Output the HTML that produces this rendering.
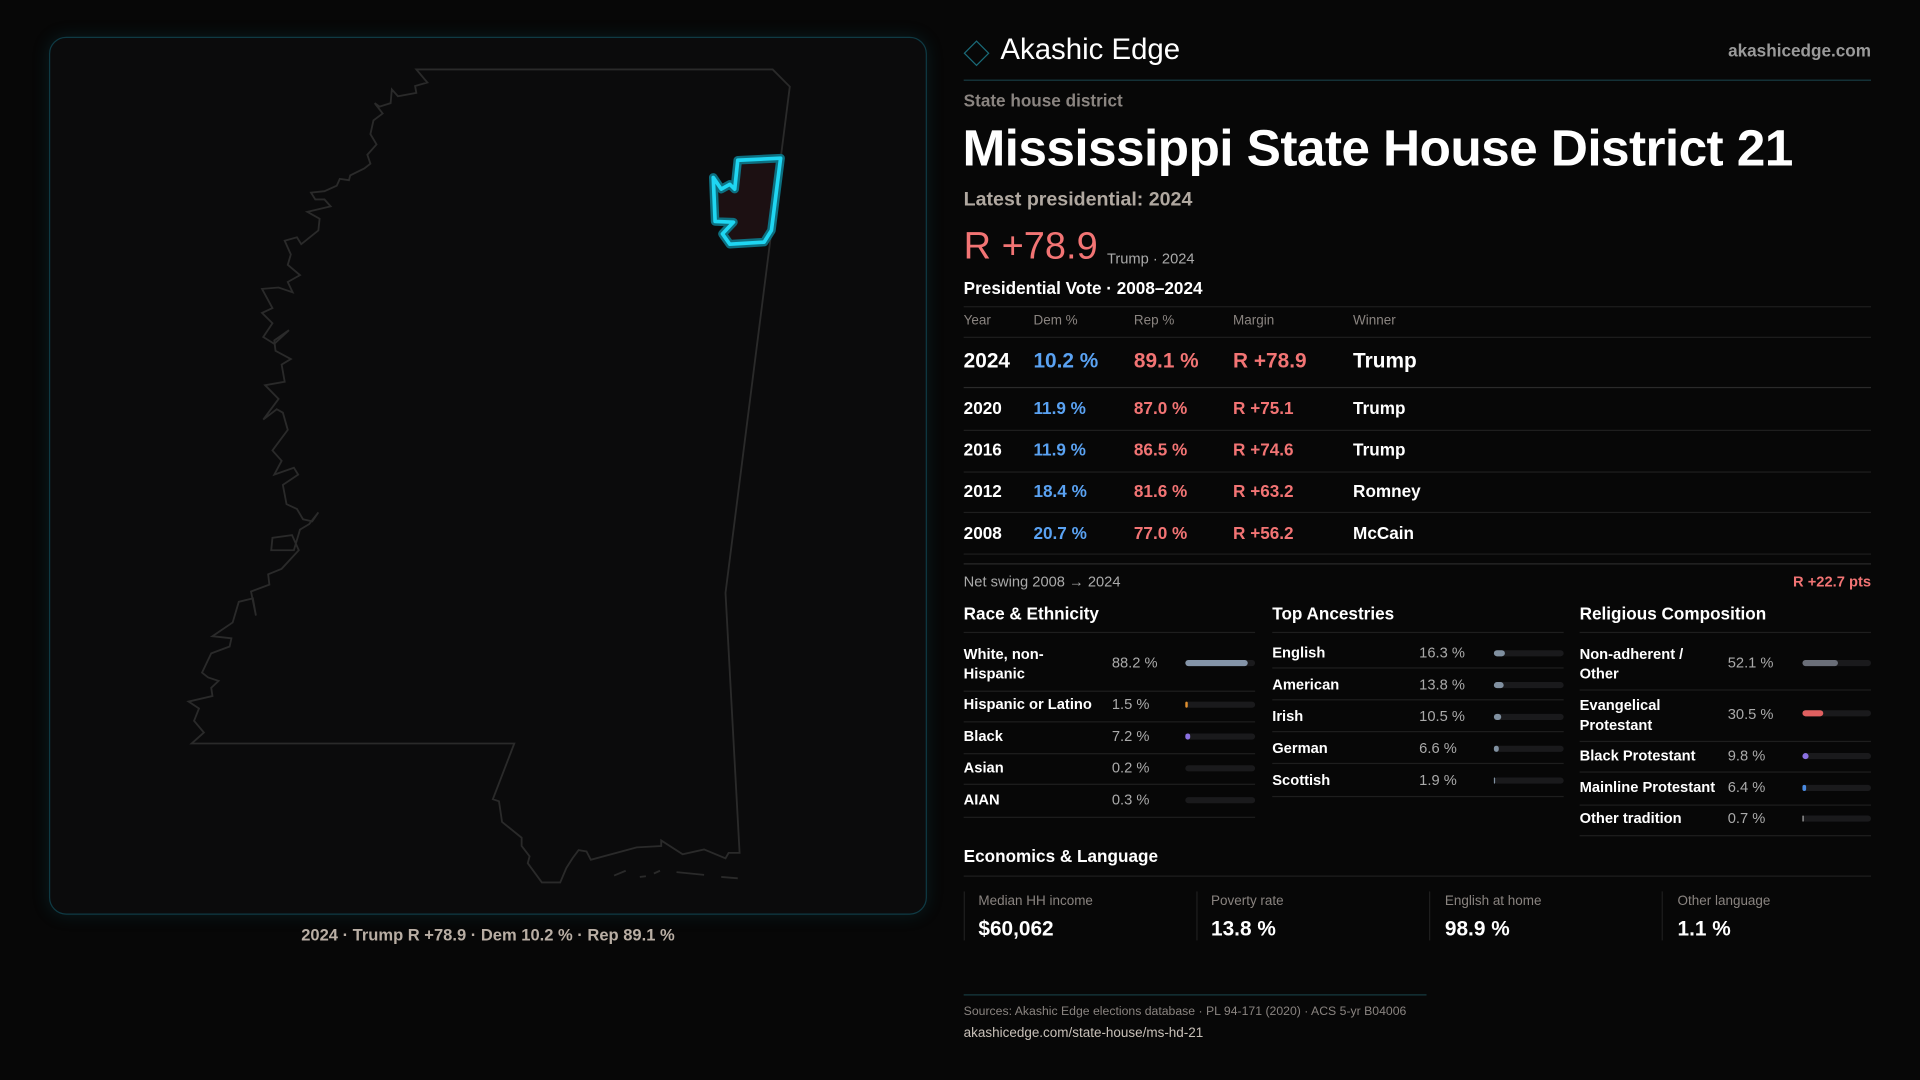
<!DOCTYPE html>
<html><head><meta charset="utf-8"><style>
*{margin:0;padding:0;box-sizing:border-box}
html,body{width:1920px;height:1080px;background:#070707;overflow:hidden}
#w{position:absolute;left:0;top:0;width:1568px;height:882px;transform:scale(1.22449);transform-origin:0 0;font-family:"Liberation Sans",sans-serif;color:#fff}
.t{position:absolute;line-height:1;white-space:nowrap}
.l{position:absolute;height:1px;background:#1e1e1e}
.g{color:#8a8480}
.b{font-weight:bold}
.blue{color:#5aa2f2}.red{color:#f27474}
.bar{position:absolute;height:5px;border-radius:3px;background:#1a1a1c}
.bar i{position:absolute;left:0;top:0;height:5px;border-radius:3px}
</style></head><body><div id="w">
<div style="position:absolute;left:40px;top:30px;width:717px;height:717px;border:1px solid #0f3a44;border-radius:14px;background:#0b0b0c;box-shadow:0 0 14px rgba(20,120,140,.18)"></div>
<svg style="position:absolute;left:0;top:0" width="1568" height="882">
<g transform="scale(0.5,0.5617)" fill="none" stroke="#2a2a2a" stroke-width="1.5">
<path vector-effect="non-scaling-stroke" d="M680,101 L1262,101 L1290,126 L1185,862 L1208,1240 L1190,1240 L1185,1248 L1150,1235 L1115,1242 L1080,1222 L1080,1230 L1040,1232 L965,1250 L958,1238 L945,1236 L935,1248 L925,1262 L915,1283 L885,1283 L862,1255 L865,1245 L852,1230 L852,1218 L820,1195 L815,1165 L805,1162 L840,1081 L313,1081 L333,1065 L317,1048 L325,1030 L308,1020 L347,1012 L345,1000 L357,990 L340,985 L330,978 L345,950 L375,940 L378,928 L347,925 L380,905 L390,875 L413,870 L418,895 L410,860 L440,850 L438,835 L460,827 L488,800 L477,778 L445,782 L443,800 L480,800 L490,770 L505,762 L520,745 L510,758 L495,755 L485,740 L468,733 L462,705 L487,690 L480,680 L448,690 L460,670 L445,655 L470,625 L462,600 L452,595 L430,610 L455,580 L433,560 L465,555 L460,530 L475,522 L450,510 L448,495 L472,480 L448,500 L430,490 L445,470 L428,455 L445,448 L428,420 L455,418 L478,425 L470,410 L490,400 L470,385 L475,370 L465,350 L485,345 L492,355 L520,335 L522,318 L502,308 L540,300 L530,290 L515,290 L508,280 L530,278 L550,270 L555,260 L570,262 L572,255 L595,245 L605,238 L600,225 L615,210 L605,195 L610,175 L625,165 L612,150 L620,155 L638,150 L640,130 L650,140 L680,135 L678,125 L698,120 Z"/>
<path vector-effect="non-scaling-stroke" d="M1003,1273 L1022,1266 M1045,1275 L1055,1274 M1068,1270 L1078,1266 M1105,1268 L1150,1272 M1178,1275 L1205,1277"/>
<polygon vector-effect="non-scaling-stroke" points="1205,233 1275,230 1260,335 1248,352 1192,355 1180,340 1198,323 1168,322 1165,258 1178,275 1192,268 1200,275" fill="#1c1012" stroke="#0d6f80" stroke-width="7" stroke-linejoin="round"/>
<polygon vector-effect="non-scaling-stroke" points="1205,233 1275,230 1260,335 1248,352 1192,355 1180,340 1198,323 1168,322 1165,258 1178,275 1192,268 1200,275" fill="none" stroke="#1fd6f2" stroke-width="3" stroke-linejoin="round"/>
</g>
</svg>
<div class="t b" style="left:0;width:797px;text-align:center;top:757px;font-size:13.5px;color:#b9aea4">2024 · Trump R +78.9 · Dem 10.2 % · Rep 89.1 %</div>

<div style="position:absolute;left:790px;top:36px;width:15px;height:15px;border:1.5px solid #1a6a78;transform:rotate(45deg)"></div>
<div class="t" style="left:817px;top:29px;font-size:24px">Akashic Edge</div>
<div class="t b" style="right:40px;top:34px;font-size:14px;color:#9a9a9a">akashicedge.com</div>
<div class="l" style="left:787px;width:741px;top:65px;background:#173b42"></div>
<div class="t b g" style="left:787px;top:75px;font-size:14px">State house district</div>
<div class="t b" style="left:786px;top:100px;font-size:42px;letter-spacing:-0.5px">Mississippi State House District 21</div>
<div class="t b" style="left:787px;top:156px;font-size:16px;color:#b0a8a0">Latest presidential: 2024</div>
<div class="t red" style="left:787px;top:185px;font-size:31px">R +78.9</div>
<div class="t" style="left:904px;top:205px;font-size:12px;color:#aaa">Trump · 2024</div>
<div class="t b" style="left:787px;top:228px;font-size:14px">Presidential Vote · 2008–2024</div>
<div class="l" style="left:787px;width:741px;top:250px"></div>
<div class="t g" style="left:787px;top:257px;font-size:11px">Year</div>
<div class="t g" style="left:844px;top:257px;font-size:11px">Dem %</div>
<div class="t g" style="left:926px;top:257px;font-size:11px">Rep %</div>
<div class="t g" style="left:1007px;top:257px;font-size:11px">Margin</div>
<div class="t g" style="left:1105px;top:257px;font-size:11px">Winner</div>
<div class="l" style="left:787px;width:741px;top:275px"></div>
<div class="t b" style="left:787px;top:286px;font-size:17px">2024</div>
<div class="t b blue" style="left:844px;top:286px;font-size:17px">10.2 %</div>
<div class="t b red" style="left:926px;top:286px;font-size:17px">89.1 %</div>
<div class="t b red" style="left:1007px;top:286px;font-size:17px">R +78.9</div>
<div class="t b" style="left:1105px;top:286px;font-size:17px">Trump</div>
<div class="l" style="left:787px;width:741px;top:316px;background:#2a2a2a"></div>
<div class="t b" style="left:787px;top:326px;font-size:14px">2020</div><div class="t b blue" style="left:844px;top:326px;font-size:14px">11.9 %</div><div class="t b red" style="left:926px;top:326px;font-size:14px">87.0 %</div><div class="t b red" style="left:1007px;top:326px;font-size:14px">R +75.1</div><div class="t b" style="left:1105px;top:326px;font-size:14px">Trump</div>
<div class="l" style="left:787px;width:741px;top:351px"></div>
<div class="t b" style="left:787px;top:360px;font-size:14px">2016</div><div class="t b blue" style="left:844px;top:360px;font-size:14px">11.9 %</div><div class="t b red" style="left:926px;top:360px;font-size:14px">86.5 %</div><div class="t b red" style="left:1007px;top:360px;font-size:14px">R +74.6</div><div class="t b" style="left:1105px;top:360px;font-size:14px">Trump</div>
<div class="l" style="left:787px;width:741px;top:385px"></div>
<div class="t b" style="left:787px;top:394px;font-size:14px">2012</div><div class="t b blue" style="left:844px;top:394px;font-size:14px">18.4 %</div><div class="t b red" style="left:926px;top:394px;font-size:14px">81.6 %</div><div class="t b red" style="left:1007px;top:394px;font-size:14px">R +63.2</div><div class="t b" style="left:1105px;top:394px;font-size:14px">Romney</div>
<div class="l" style="left:787px;width:741px;top:418px"></div>
<div class="t b" style="left:787px;top:428px;font-size:14px">2008</div><div class="t b blue" style="left:844px;top:428px;font-size:14px">20.7 %</div><div class="t b red" style="left:926px;top:428px;font-size:14px">77.0 %</div><div class="t b red" style="left:1007px;top:428px;font-size:14px">R +56.2</div><div class="t b" style="left:1105px;top:428px;font-size:14px">McCain</div>
<div class="l" style="left:787px;width:741px;top:452px"></div>
<div class="l" style="left:787px;width:741px;top:460px;background:#2a2a2a"></div>
<div class="t" style="left:787px;top:469px;font-size:12px;color:#aaa">Net swing 2008 → 2024</div>
<div class="t b red" style="right:40px;top:469px;font-size:12px">R +22.7 pts</div>

<div class="t b" style="left:787px;top:494px;font-size:14px">Race &amp; Ethnicity</div>
<div class="t b" style="left:1039px;top:494px;font-size:14px">Top Ancestries</div>
<div class="t b" style="left:1290px;top:494px;font-size:14px">Religious Composition</div>
<div class="l" style="left:787px;width:238px;top:516px"></div>
<div class="l" style="left:1039px;width:238px;top:516px"></div>
<div class="l" style="left:1290px;width:238px;top:516px"></div>

<!-- race -->
<div class="t b" style="left:787px;top:526px;font-size:12px;line-height:16px">White, non-<br>Hispanic</div>
<div class="t" style="left:908px;top:535px;font-size:12px;color:#aaa">88.2 %</div>
<div class="bar" style="left:968px;top:539px;width:57px"><i style="width:51px;background:#8494a8"></i></div>
<div class="l" style="left:787px;width:238px;top:564px"></div>
<div class="t b" style="left:787px;top:569px;font-size:12px">Hispanic or Latino</div>
<div class="t" style="left:908px;top:569px;font-size:12px;color:#aaa">1.5 %</div>
<div class="bar" style="left:968px;top:573px;width:57px"><i style="width:2px;background:#e09030"></i></div>
<div class="l" style="left:787px;width:238px;top:589px"></div>
<div class="t b" style="left:787px;top:595px;font-size:12px">Black</div>
<div class="t" style="left:908px;top:595px;font-size:12px;color:#aaa">7.2 %</div>
<div class="bar" style="left:968px;top:599px;width:57px"><i style="width:4px;background:#8a70e0"></i></div>
<div class="l" style="left:787px;width:238px;top:615px"></div>
<div class="t b" style="left:787px;top:621px;font-size:12px">Asian</div>
<div class="t" style="left:908px;top:621px;font-size:12px;color:#aaa">0.2 %</div>
<div class="bar" style="left:968px;top:625px;width:57px"></div>
<div class="l" style="left:787px;width:238px;top:640px"></div>
<div class="t b" style="left:787px;top:647px;font-size:12px">AIAN</div>
<div class="t" style="left:908px;top:647px;font-size:12px;color:#aaa">0.3 %</div>
<div class="bar" style="left:968px;top:651px;width:57px"></div>
<div class="l" style="left:787px;width:238px;top:667px"></div>

<!-- ancestry -->
<div class="t b" style="left:1039px;top:527px;font-size:12px">English</div><div class="t" style="left:1159px;top:527px;font-size:12px;color:#aaa">16.3 %</div><div class="bar" style="left:1220px;top:531px;width:57px"><i style="width:9px;background:#8090a0"></i></div>
<div class="l" style="left:1039px;width:238px;top:545px"></div>
<div class="t b" style="left:1039px;top:553px;font-size:12px">American</div><div class="t" style="left:1159px;top:553px;font-size:12px;color:#aaa">13.8 %</div><div class="bar" style="left:1220px;top:557px;width:57px"><i style="width:8px;background:#8090a0"></i></div>
<div class="l" style="left:1039px;width:238px;top:571px"></div>
<div class="t b" style="left:1039px;top:579px;font-size:12px">Irish</div><div class="t" style="left:1159px;top:579px;font-size:12px;color:#aaa">10.5 %</div><div class="bar" style="left:1220px;top:583px;width:57px"><i style="width:6px;background:#8090a0"></i></div>
<div class="l" style="left:1039px;width:238px;top:597px"></div>
<div class="t b" style="left:1039px;top:605px;font-size:12px">German</div><div class="t" style="left:1159px;top:605px;font-size:12px;color:#aaa">6.6 %</div><div class="bar" style="left:1220px;top:609px;width:57px"><i style="width:4px;background:#8090a0"></i></div>
<div class="l" style="left:1039px;width:238px;top:623px"></div>
<div class="t b" style="left:1039px;top:631px;font-size:12px">Scottish</div><div class="t" style="left:1159px;top:631px;font-size:12px;color:#aaa">1.9 %</div><div class="bar" style="left:1220px;top:635px;width:57px"><i style="width:1px;background:#8090a0"></i></div>
<div class="l" style="left:1039px;width:238px;top:650px"></div>

<!-- religion -->
<div class="t b" style="left:1290px;top:526px;font-size:12px;line-height:16px">Non-adherent /<br>Other</div>
<div class="t" style="left:1411px;top:535px;font-size:12px;color:#aaa">52.1 %</div>
<div class="bar" style="left:1472px;top:539px;width:56px"><i style="width:29px;background:#6a6e78"></i></div>
<div class="l" style="left:1290px;width:238px;top:563px"></div>
<div class="t b" style="left:1290px;top:568px;font-size:12px;line-height:16px">Evangelical<br>Protestant</div>
<div class="t" style="left:1411px;top:577px;font-size:12px;color:#aaa">30.5 %</div>
<div class="bar" style="left:1472px;top:580px;width:56px"><i style="width:17px;background:#e06060"></i></div>
<div class="l" style="left:1290px;width:238px;top:605px"></div>
<div class="t b" style="left:1290px;top:611px;font-size:12px">Black Protestant</div><div class="t" style="left:1411px;top:611px;font-size:12px;color:#aaa">9.8 %</div><div class="bar" style="left:1472px;top:615px;width:56px"><i style="width:5px;background:#8a70e0"></i></div>
<div class="l" style="left:1290px;width:238px;top:630px"></div>
<div class="t b" style="left:1290px;top:637px;font-size:12px">Mainline Protestant</div><div class="t" style="left:1411px;top:637px;font-size:12px;color:#aaa">6.4 %</div><div class="bar" style="left:1472px;top:641px;width:56px"><i style="width:3px;background:#4a8ae0"></i></div>
<div class="l" style="left:1290px;width:238px;top:657px"></div>
<div class="t b" style="left:1290px;top:662px;font-size:12px">Other tradition</div><div class="t" style="left:1411px;top:662px;font-size:12px;color:#aaa">0.7 %</div><div class="bar" style="left:1472px;top:666px;width:56px"><i style="width:1px;background:#aaa"></i></div>
<div class="l" style="left:1290px;width:238px;top:682px"></div>

<div class="t b" style="left:787px;top:692px;font-size:14px">Economics &amp; Language</div>
<div class="l" style="left:787px;width:741px;top:715px"></div>
<div class="l" style="left:787px;width:1px;height:40px;top:728px"></div>
<div class="l" style="left:977px;width:1px;height:40px;top:728px"></div>
<div class="l" style="left:1167px;width:1px;height:40px;top:728px"></div>
<div class="l" style="left:1357px;width:1px;height:40px;top:728px"></div>
<div class="t g" style="left:799px;top:731px;font-size:11px">Median HH income</div>
<div class="t b" style="left:799px;top:750px;font-size:17px">$60,062</div>
<div class="t g" style="left:989px;top:731px;font-size:11px">Poverty rate</div>
<div class="t b" style="left:989px;top:750px;font-size:17px">13.8 %</div>
<div class="t g" style="left:1180px;top:731px;font-size:11px">English at home</div>
<div class="t b" style="left:1180px;top:750px;font-size:17px">98.9 %</div>
<div class="t g" style="left:1370px;top:731px;font-size:11px">Other language</div>
<div class="t b" style="left:1370px;top:750px;font-size:17px">1.1 %</div>

<div class="l" style="left:787px;width:378px;top:812px;background:#173b42"></div>
<div class="t g" style="left:787px;top:822px;font-size:10px">Sources: Akashic Edge elections database · PL 94-171 (2020) · ACS 5-yr B04006</div>
<div class="t" style="left:787px;top:839px;font-size:11px;color:#c8c0b8">akashicedge.com/state-house/ms-hd-21</div>
</div></body></html>
